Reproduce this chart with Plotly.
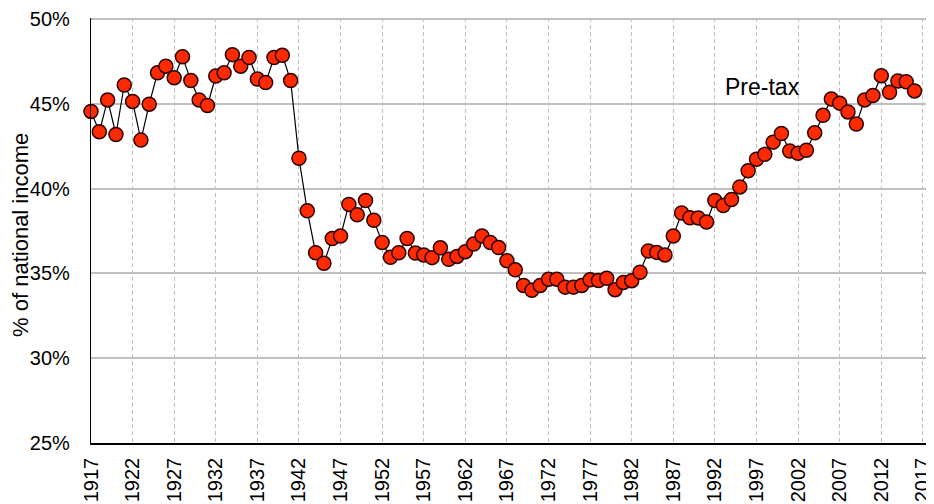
import plotly.graph_objects as go

years = list(range(1917, 2017))
pretax_share = [
    44.55, 43.35, 45.23, 43.19, 46.11, 45.14, 42.86, 44.98, 46.83, 47.22,
    46.54, 47.77, 46.37, 45.23, 44.90, 46.64, 46.83, 47.90, 47.22, 47.73,
    46.46, 46.25, 47.73, 47.86, 46.37, 41.79, 38.69, 36.22, 35.60, 37.06,
    37.20, 39.07, 38.46, 39.30, 38.13, 36.82, 35.95, 36.22, 37.06, 36.20,
    36.09, 35.93, 36.51, 35.83, 36.00, 36.28, 36.73, 37.21, 36.82, 36.53,
    35.75, 35.21, 34.29, 34.00, 34.29, 34.66, 34.66, 34.19, 34.19, 34.29,
    34.62, 34.58, 34.71, 34.04, 34.47, 34.57, 35.07, 36.32, 36.24, 36.09,
    37.20, 38.56, 38.28, 38.27, 38.03, 39.30, 39.00, 39.36, 40.10, 41.05,
    41.73, 42.02, 42.74, 43.25, 42.22, 42.08, 42.26, 43.29, 44.32, 45.29,
    45.04, 44.52, 43.81, 45.23, 45.49, 46.66, 45.68, 46.34, 46.30, 45.76,
]
x_ticks = list(range(1917, 2018, 5))
y_ticks = [25, 30, 35, 40, 45, 50]
series_label = "Pre-tax"
y_title = "% of national income"

FONT = "Liberation Sans, Arial, sans-serif"

fig = go.Figure()
fig.add_trace(go.Scatter(
    x=years, y=pretax_share, mode="lines+markers",
    line=dict(color="#000000", width=1.2),
    marker=dict(size=14, color="#FF2A00", line=dict(color="#2B0000", width=1.5)),
    cliponaxis=False, showlegend=False,
))

fig.add_annotation(
    x=1997.7, y=46.0, xref="x", yref="y", text=series_label, showarrow=False,
    xanchor="center", yanchor="middle",
    font=dict(family=FONT, size=23, color="#000000"),
)
fig.add_annotation(
    x=-0.083, y=0.49, xref="paper", yref="paper", text=y_title, showarrow=False,
    textangle=-90, xanchor="center", yanchor="middle",
    font=dict(family=FONT, size=22, color="#000000"),
)

fig.update_layout(
    template="none",
    width=934, height=504,
    margin=dict(l=83, r=10, t=10, b=69),
    paper_bgcolor="white", plot_bgcolor="white",
    font=dict(family=FONT, size=20, color="#000000"),
    xaxis=dict(
        range=[1917, 2018.1], tickmode="array", tickvals=x_ticks,
        ticktext=[str(v) for v in x_ticks], tickangle=-90,
        showgrid=True, gridcolor="#BDBDBD", gridwidth=1, griddash="4px,3px",
        showline=True, linecolor="#000000", linewidth=1.5,
        zeroline=False, ticks="", automargin=False, ticklabelstandoff=5,
        ticklabeloverflow="allow",
        tickfont=dict(family=FONT, size=20, color="#000000"),
    ),
    yaxis=dict(
        range=[25, 50.06], tickmode="array", tickvals=y_ticks,
        ticktext=[f"{v}%" for v in y_ticks],
        showgrid=True, gridcolor="#BFBFBF", gridwidth=2,
        showline=True, linecolor="#000000", linewidth=1.2,
        zeroline=False, ticks="", automargin=False, ticklabelstandoff=16,
        ticklabeloverflow="allow",
        tickfont=dict(family=FONT, size=20, color="#000000"),
    ),
)

fig.write_html("out.html")
